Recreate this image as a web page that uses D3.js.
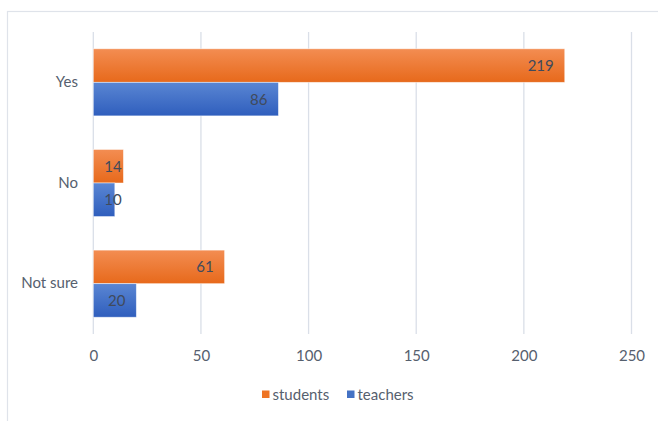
<!DOCTYPE html>
<html>
<head>
<meta charset="utf-8">
<script src="https://cdn.jsdelivr.net/npm/d3@7"></script>
<style>
  html, body { margin: 0; padding: 0; background: #ffffff; }
  svg { display: block; }
  text { font-family: Lato, "Open Sans", sans-serif; }
</style>
</head>
<body>
<script>
const categories = ["Yes", "No", "Not sure"];
const seriesNames = ["students", "teachers"];
const students = [219, 14, 61];
const teachers = [86, 10, 20];
const tickValues = [0, 50, 100, 150, 200, 250];

const W = 658, H = 421;
const FS = 15;
const svg = d3.select("body").append("svg").attr("width", W).attr("height", H);

const defs = svg.append("defs");
const grads = {
  students: ["#f38d52", "#e7691b"],
  teachers: ["#5a86d3", "#2f5ebd"]
};
Object.entries(grads).forEach(([k, c]) => {
  const g = defs.append("linearGradient").attr("id", "g-" + k)
    .attr("x1", 0).attr("y1", 0).attr("x2", 0).attr("y2", 1);
  g.append("stop").attr("offset", "0%").attr("stop-color", c[0]);
  g.append("stop").attr("offset", "100%").attr("stop-color", c[1]);
});
const legendColor = { students: "#ee7424", teachers: "#4472c4" };

// chart frame
svg.append("rect").attr("x", 7.5).attr("y", 11.5).attr("width", W + 10).attr("height", H + 10)
  .attr("fill", "none").attr("stroke", "#dfe3ea").attr("stroke-width", 1.2);

const x = d3.scaleLinear().domain([0, 250]).range([93.3, 631.5]);
const y = d3.scaleBand().domain(categories).range([32, 334]).padding(0);
const ys = d3.scaleBand().domain(seriesNames).range([0, y.bandwidth()]).paddingInner(0).paddingOuter(0.5);

// gridlines
svg.append("g").selectAll("line").data(tickValues).join("line")
  .attr("x1", d => x(d)).attr("x2", d => x(d))
  .attr("y1", 32).attr("y2", 334)
  .attr("stroke", "#dadfe8").attr("stroke-width", 1.3);

// x axis labels
const xAxis = d3.axisBottom(x).tickValues(tickValues).tickSize(0).tickPadding(0);
const gx = svg.append("g").attr("transform", "translate(0,350)").call(xAxis);
gx.select(".domain").remove();
gx.selectAll("text").attr("font-size", FS).attr("fill", "#56606e")
  .attr("font-family", "Lato, 'Open Sans', sans-serif");

// y axis labels
const yAxis = d3.axisLeft(y).tickSize(0).tickPadding(0);
const gy = svg.append("g").attr("transform", "translate(78,0)").call(yAxis);
gy.select(".domain").remove();
gy.selectAll("text").attr("font-size", FS).attr("fill", "#56606e")
  .attr("font-family", "Lato, 'Open Sans', sans-serif");

const rows = [];
categories.forEach((c, i) => {
  rows.push({ cat: c, s: "students", v: students[i] });
  rows.push({ cat: c, s: "teachers", v: teachers[i] });
});

const bars = svg.append("g");
bars.selectAll("rect").data(rows).join("rect")
  .attr("x", x(0))
  .attr("y", d => y(d.cat) + ys(d.s))
  .attr("width", d => x(d.v) - x(0))
  .attr("height", ys.bandwidth())
  .attr("fill", d => "url(#g-" + d.s + ")")
  .attr("stroke", "rgba(255,255,255,0.6)").attr("stroke-width", 0.8);

const labels = svg.append("g");
labels.selectAll("text").data(rows).join("text")
  .attr("x", d => x(d.v) - 11)
  .attr("y", d => y(d.cat) + ys(d.s) + ys.bandwidth() / 2)
  .attr("dy", "0.36em")
  .attr("text-anchor", "end")
  .attr("font-size", FS)
  .attr("fill", "#404a5c")
  .text(d => d.v)
  .each(function (d) {
    const w = this.getComputedTextLength();
    const minStart = x(0) + 11;
    if (x(d.v) - 11 - w < minStart) {
      d3.select(this).attr("text-anchor", "start").attr("x", minStart);
    }
  });

// legend
const legend = svg.append("g");
const legendItems = [
  { s: "students", x: 262 },
  { s: "teachers", x: 347 }
];
legendItems.forEach(it => {
  legend.append("rect").attr("x", it.x).attr("y", 390.5).attr("width", 7.5).attr("height", 7.5)
    .attr("fill", legendColor[it.s]);
  legend.append("text").attr("x", it.x + 10.5).attr("y", 394.5).attr("dy", "0.36em")
    .attr("font-size", FS).attr("fill", "#56606e").text(it.s);
});
</script>
</body>
</html>
